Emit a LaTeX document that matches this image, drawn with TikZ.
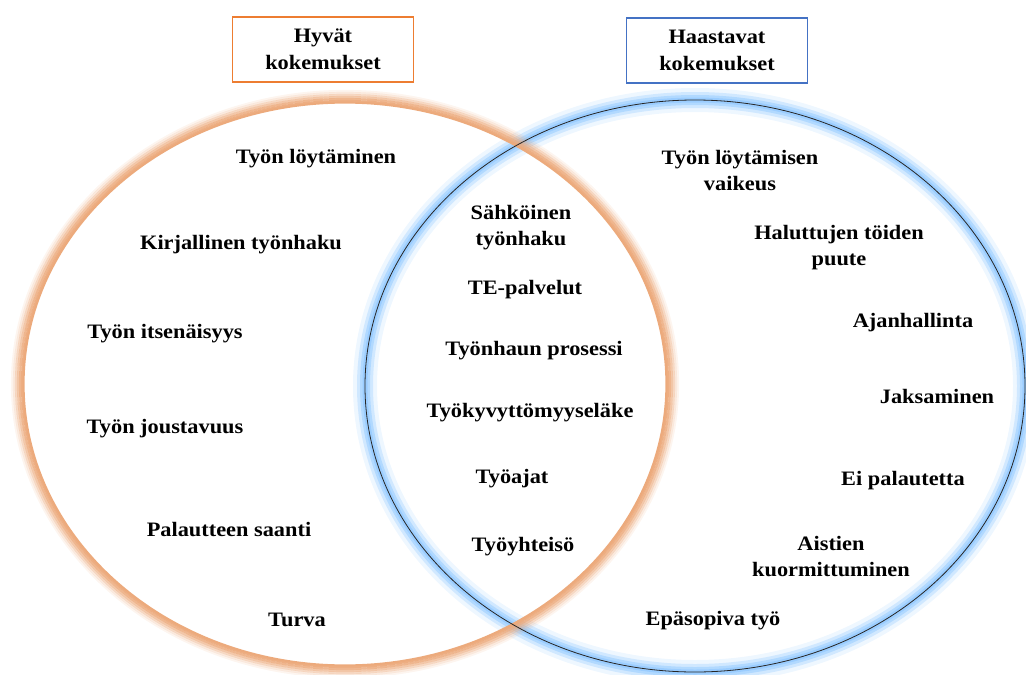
\documentclass[tikz,border=0pt]{standalone}
\usepackage{fontspec}
\setmainfont[FakeStretch=1.09]{Liberation Serif}
\definecolor{orangeline}{RGB}{237,125,49}
\definecolor{blueline}{RGB}{68,114,196}
\definecolor{peach}{RGB}{236,170,124}
\definecolor{glowblue}{RGB}{140,198,255}
\tikzset{
  lbl/.style={font=\fontsize{20.5}{26}\selectfont\bfseries, align=center, inner sep=0pt},
  titlebox/.style={draw, line width=1.6pt, minimum width=181pt, minimum height=65pt, align=center, font=\fontsize{20.5}{27}\selectfont\bfseries}
}
\begin{document}
\begin{tikzpicture}[x=1pt,y=-1pt]
\useasboundingbox (0,0) rectangle (1026,675);
% right circle glow (under)
\foreach \w/\o in {24/0.15,16/0.3,10/0.45,5/0.6}{
  \draw[glowblue, line width=\w pt, opacity=\o] (695,386) ellipse [x radius=330pt, y radius=286pt];
}
% left circle: soft orange ring fading outward
\foreach \d/\o in {12/0.12,10/0.25,8/0.45,6/0.65,4/0.85,2/0.95,0.5/1}{
  \draw[peach, line width=2.2pt, opacity=\o] (345,384) ellipse [x radius=321pt+\d pt, y radius=281pt+\d pt];
}
% right circle thin line
\draw[black!85, line width=0.8pt] (695,386) ellipse [x radius=330pt, y radius=286pt];
% title boxes
\node[titlebox, draw=orangeline] (good) at (323,49.5) {Hyvät\\kokemukset};
\node[titlebox, draw=blueline] (hard) at (717,50.5) {Haastavat\\kokemukset};
% left items
\node[lbl] (l1) at (316,159) {Työn löytäminen};
\node[lbl] (l2) at (241,245) {Kirjallinen työnhaku};
\node[lbl] (l3) at (165,334) {Työn itsenäisyys};
\node[lbl] (l4) at (165,429) {Työn joustavuus};
\node[lbl] (l5) at (229,530) {Palautteen saanti};
\node[lbl] (l6) at (297,620) {Turva};
% middle items
\node[lbl] (m1) at (521,228) {Sähköinen\\työnhaku};
\node[lbl] (m2) at (525,290) {TE-palvelut};
\node[lbl] (m3) at (534,351) {Työnhaun prosessi};
\node[lbl] (m4) at (530,413) {Työkyvyttömyyseläke};
\node[lbl] (m5) at (512,479) {Työajat};
\node[lbl] (m6) at (523,547) {Työyhteisö};
% right items
\node[lbl] (r1) at (740,171) {Työn löytämisen\\vaikeus};
\node[lbl] (r2) at (839,248) {Haluttujen töiden\\puute};
\node[lbl] (r3) at (913,323) {Ajanhallinta};
\node[lbl] (r4) at (937,396) {Jaksaminen};
\node[lbl] (r5) at (903,481) {Ei palautetta};
\node[lbl] (r6) at (831,557) {Aistien\\kuormittuminen};
\node[lbl] (r7) at (713,621) {Epäsopiva työ};
\end{tikzpicture}
\end{document}
